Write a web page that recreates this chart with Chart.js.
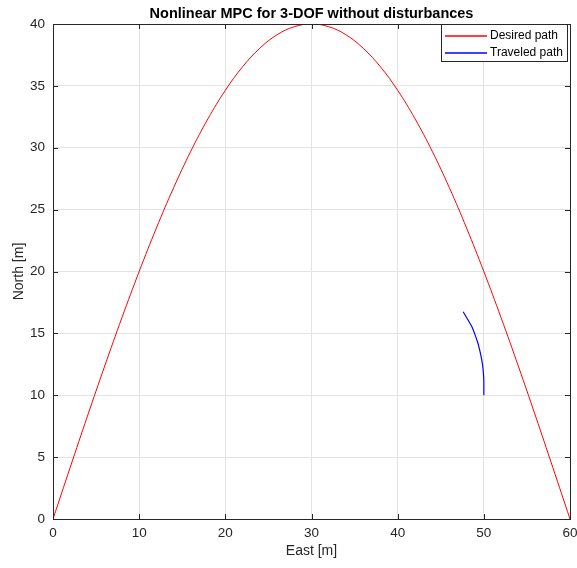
<!DOCTYPE html>
<html>
<head>
<meta charset="utf-8">
<script src="https://cdn.jsdelivr.net/npm/chart.js@4"></script>
<style>
  html, body { margin: 0; padding: 0; background: #fff; }
  #wrap { width: 577px; height: 568px; }
</style>
</head>
<body>
<div id="wrap"><canvas id="myChart" width="577" height="568"></canvas></div>
<script>
// desired sinusoidal path, sampled every 2 m east
const desiredEast = [0, 2, 4, 6, 8, 10, 12, 14, 16, 18, 20, 22, 24, 26, 28, 30,
                     32, 34, 36, 38, 40, 42, 44, 46, 48, 50, 52, 54, 56, 58, 60];
const desiredNorth = [0, 4.18, 8.32, 12.36, 16.27, 20.0, 23.51, 26.77, 29.73, 32.36, 34.64, 36.54, 38.04, 39.13, 39.78, 40.0,
                      39.78, 39.13, 38.04, 36.54, 34.64, 32.36, 29.73, 26.77, 23.51, 20.0, 16.27, 12.36, 8.32, 4.18, 0];

// vessel track so far
const traveledEast = [50.0, 50.0, 49.97, 49.88, 49.72, 49.52, 49.27, 48.92, 48.6, 48.15, 47.6];
const traveledNorth = [10.0, 11.0, 11.6, 12.3, 13.0, 13.65, 14.3, 15.0, 15.55, 16.1, 16.75];

const xTicks = [0, 10, 20, 30, 40, 50, 60];
const yTicks = [0, 5, 10, 15, 20, 25, 30, 35, 40];

const seriesNames = ['Desired path', 'Traveled path'];
const seriesColors = ['#ff0000', '#0000ff'];

const FONT = '"Liberation Sans", Arial, Helvetica, sans-serif';
const AXIS_COLOR = '#262626';

function toPoints(xs, ys) {
    return xs.map((x, i) => ({ x: x, y: ys[i] }));
}

// title, box frame, inward ticks and the legend box
const matlabLook = {
    id: 'matlabLook',
    afterDraw(chart) {
        const ctx = chart.ctx;
        const a = chart.chartArea;
        const xs = chart.scales.x, ys = chart.scales.y;
        ctx.save();

        ctx.strokeStyle = AXIS_COLOR;
        ctx.lineWidth = 1;
        ctx.beginPath();
        xTicks.forEach(v => {
            const px = Math.round(xs.getPixelForValue(v)) + 0.5;
            ctx.moveTo(px, a.bottom); ctx.lineTo(px, a.bottom - 5);
            ctx.moveTo(px, a.top); ctx.lineTo(px, a.top + 5);
        });
        yTicks.forEach(v => {
            const py = Math.round(ys.getPixelForValue(v)) + 0.5;
            ctx.moveTo(a.left, py); ctx.lineTo(a.left + 5, py);
            ctx.moveTo(a.right, py); ctx.lineTo(a.right - 5, py);
        });
        ctx.stroke();
        ctx.strokeRect(Math.round(a.left) + 0.5, Math.round(a.top) + 0.5,
                       Math.round(a.right - a.left), Math.round(a.bottom - a.top));

        // title
        ctx.fillStyle = '#000';
        ctx.font = 'bold 14.5px ' + FONT;
        ctx.textAlign = 'center';
        ctx.textBaseline = 'alphabetic';
        ctx.fillText('Nonlinear MPC for 3-DOF without disturbances', (a.left + a.right) / 2, 18);

        // legend
        const lx = 441, ly = 24, lw = 126, lh = 37;
        ctx.fillStyle = '#fff';
        ctx.fillRect(lx, ly, lw, lh);
        ctx.strokeStyle = AXIS_COLOR;
        ctx.strokeRect(lx + 0.5, ly + 0.5, lw, lh);
        ctx.font = '12px ' + FONT;
        ctx.textAlign = 'left';
        ctx.textBaseline = 'middle';
        seriesNames.forEach((name, i) => {
            const cy = ly + 11.5 + i * 17.5;
            ctx.strokeStyle = seriesColors[i];
            ctx.lineWidth = 1.3;
            ctx.beginPath();
            ctx.moveTo(lx + 4, Math.round(cy));
            ctx.lineTo(lx + 46, Math.round(cy));
            ctx.stroke();
            ctx.fillStyle = '#000';
            ctx.fillText(name, lx + 49, cy);
        });
        ctx.restore();
    }
};

const ctx = document.getElementById('myChart').getContext('2d');
const chart = new Chart(ctx, {
    type: 'line',
    data: {
        datasets: [{
            label: seriesNames[0],
            data: toPoints(desiredEast, desiredNorth),
            borderColor: seriesColors[0],
            borderWidth: 1,
            pointRadius: 0,
            tension: 0.4,
            fill: false
        }, {
            label: seriesNames[1],
            data: toPoints(traveledEast, traveledNorth),
            borderColor: seriesColors[1],
            borderWidth: 1.2,
            pointRadius: 0,
            tension: 0.3,
            fill: false
        }]
    },
    options: {
        responsive: false,
        animation: false,
        layout: { padding: { left: 0, right: 0, top: 24, bottom: 0 } },
        plugins: {
            legend: { display: false },
            title: { display: false },
            tooltip: { enabled: false }
        },
        scales: {
            x: {
                type: 'linear',
                min: 0, max: 60,
                afterBuildTicks: s => { s.ticks = xTicks.map(v => ({ value: v })); },
                afterFit: s => { s.height = 49; s.paddingLeft = 0; s.paddingRight = 7; },
                grid: { color: '#e3e3e3', drawTicks: false },
                border: { display: false },
                ticks: { color: AXIS_COLOR, font: { family: FONT, size: 13.5 }, padding: 6, maxRotation: 0 },
                title: { display: true, text: 'East [m]', color: AXIS_COLOR, font: { family: FONT, size: 14 }, padding: { top: 0, bottom: 8 } }
            },
            y: {
                type: 'linear',
                min: 0, max: 40,
                afterBuildTicks: s => { s.ticks = yTicks.map(v => ({ value: v })); },
                afterFit: s => { s.width = 53; },
                grid: { color: '#e3e3e3', drawTicks: false },
                border: { display: false },
                ticks: { color: AXIS_COLOR, font: { family: FONT, size: 13.5 }, padding: 8 },
                title: { display: true, text: 'North [m]', color: AXIS_COLOR, font: { family: FONT, size: 14 }, padding: { top: 11, bottom: 0 } }
            }
        }
    },
    plugins: [matlabLook]
});
</script>
</body>
</html>
